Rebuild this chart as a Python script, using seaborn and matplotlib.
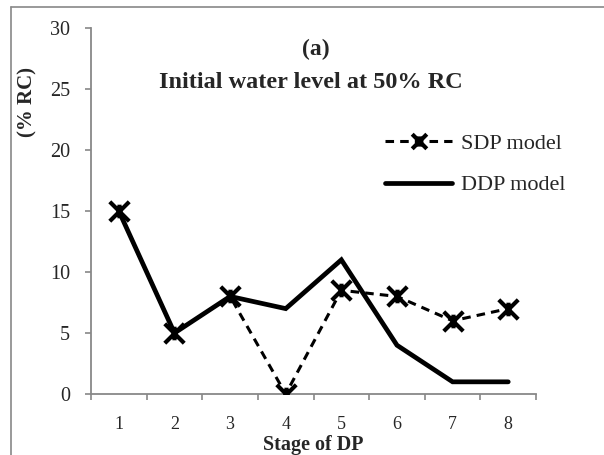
import numpy as np
import pandas as pd
import matplotlib
matplotlib.use("Agg")
import matplotlib.pyplot as plt
import seaborn as sns
from matplotlib.path import Path
from matplotlib.lines import Line2D

stages = [1, 2, 3, 4, 5, 6, 7, 8]
sdp_values = [15, 5, 8, 0, 8.5, 8, 6, 7]
ddp_values = [15, 5, 8, 7, 11, 4, 1, 1]
y_ticks = [0, 5, 10, 15, 20, 25, 30]

sns.set_theme(style="white")
plt.rcParams["font.family"] = ["Liberation Serif", "DejaVu Serif"]

df = pd.DataFrame({"stage": stages, "SDP model": sdp_values, "DDP model": ddp_values})

# Excel-like star marker: an X with a short vertical bar
star = Path(
    [(-1, -1), (1, 1), (-1, 1), (1, -1), (0, -0.7), (0, 0.7)],
    [Path.MOVETO, Path.LINETO, Path.MOVETO, Path.LINETO, Path.MOVETO, Path.LINETO],
)

fig = plt.figure(figsize=(6.04, 4.55), dpi=100)
ax = fig.add_axes([0.1507, 0.134, 0.7368, 0.8044])

sns.lineplot(data=df, x="stage", y="DDP model", ax=ax, color="black", lw=3.4,
             solid_capstyle="round", solid_joinstyle="miter", label="DDP model", zorder=2)
sns.lineplot(data=df, x="stage", y="SDP model", ax=ax, color="black", lw=2.2,
             linestyle=(0, (2.8, 2.0)), marker=star, markersize=14, markeredgewidth=3,
             markeredgecolor="black", label="SDP model", zorder=3)

ax.set_xlim(0.5, 8.5)
ax.set_ylim(0, 30)
ax.set_yticks(y_ticks)
ax.set_xticks(stages)
ax.set_xticks(np.arange(0.5, 9.0, 1.0), minor=True)
ax.tick_params(axis="x", which="major", length=0, pad=15.5, labelsize=13)
ax.tick_params(axis="x", which="minor", length=4, width=1.2, color="#888888", direction="out", bottom=True)
ax.tick_params(axis="y", length=4, width=1.2, color="#888888", direction="out", left=True, labelsize=14.5, pad=11)
for s in ["top", "right"]:
    ax.spines[s].set_visible(False)
for s in ["left", "bottom"]:
    ax.spines[s].set_color("#888888")
    ax.spines[s].set_linewidth(1.3)
ax.set_xlabel("")
ax.set_ylabel("")

handles, labels = ax.get_legend_handles_labels()
order = [labels.index("SDP model"), labels.index("DDP model")]
ax.legend([handles[i] for i in order], [labels[i] for i in order], loc="center left",
          bbox_to_anchor=(0.661, 0.628), frameon=False, fontsize=16, handlelength=3.0,
          labelspacing=0.95, handletextpad=0.4, borderpad=0, borderaxespad=0,
          markerscale=0.75)

fig.text(0.523, 1 - 55 / 455, "(a)", ha="center", va="baseline", fontsize=17, fontweight="bold")
fig.text(0.515, 1 - 88 / 455, "Initial water level at 50% RC", ha="center", va="baseline",
         fontsize=17.5, fontweight="bold")
fig.text(0.519, 1 - 450 / 455, "Stage of DP", ha="center", va="baseline", fontsize=14.5, fontweight="bold")
fig.text(0.045, 1 - 102 / 455, "(% RC)", ha="center", va="center", rotation=90, fontsize=15, fontweight="bold")

# partial frame around the chart
fig.add_artist(Line2D([0.018, 0.018], [0, 0.985], color="#888888", lw=1.2, transform=fig.transFigure))
fig.add_artist(Line2D([0.018, 1.0], [0.985, 0.985], color="#888888", lw=1.2, transform=fig.transFigure))

fig.savefig("out.png", dpi=100)
